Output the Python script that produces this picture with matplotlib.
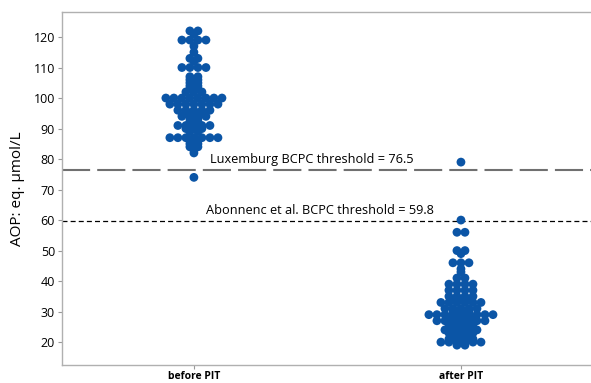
import numpy as np
import matplotlib
matplotlib.use("Agg")
import matplotlib.pyplot as plt

# AOP values (eq. umol/L) and how many samples sit at each value
before_levels = [122, 121, 119, 117, 115, 113, 112, 110, 107, 106, 105, 104, 103, 102,
                 100, 98, 96, 95, 94, 93, 92, 91, 90, 89, 87, 86, 85, 84, 83, 82, 74]
before_counts = [2, 1, 4, 1, 1, 2, 1, 4, 2, 2, 2, 2, 2, 3,
                 8, 7, 5, 3, 4, 2, 2, 5, 3, 2, 7, 2, 2, 2, 1, 1, 1]

after_levels = [79, 60, 56, 50, 49, 46, 44, 43, 41, 39, 37, 35, 34, 33, 31, 30,
                29, 28, 27, 26, 25, 24, 23, 22, 21, 20, 19]
after_counts = [1, 1, 2, 2, 1, 3, 1, 1, 2, 4, 4, 4, 3, 6, 5, 3,
                9, 4, 7, 4, 4, 5, 4, 3, 4, 6, 2]

groups = ["before PIT", "after PIT"]
lux_threshold = 76.5
abonnenc_threshold = 59.8

dot_color = "#0b55a6"
step = 0.030  # horizontal spacing between neighbouring dots


def dot_positions(levels, counts, center):
    xs, ys = [], []
    for v, n in zip(levels, counts):
        offs = (np.arange(n) - (n - 1) / 2.0) * step
        xs.extend(center + offs)
        ys.extend([v] * n)
    return np.array(xs), np.array(ys)


fig = plt.figure(figsize=(5.91, 3.83), dpi=100)
ax = fig.add_axes([62 / 591, 1 - 365 / 383, 1 - 62 / 591, 353 / 383])

for i, (lv, ct) in enumerate([(before_levels, before_counts), (after_levels, after_counts)]):
    x, y = dot_positions(lv, ct, i)
    ax.scatter(x, y, s=40, color=dot_color, edgecolors="none", zorder=3)

ax.axhline(lux_threshold, color="#707070", lw=1.5, dashes=(13.5, 3.4), zorder=2)
ax.axhline(abonnenc_threshold, color="black", lw=0.9, dashes=(4, 2.5), zorder=2)

ax.text(0.06, lux_threshold + 1.2, f"Luxemburg BCPC threshold = {lux_threshold}",
        fontsize=9.2, family="Open Sans", va="bottom", ha="left")
ax.text(0.045, abonnenc_threshold + 1.2, f"Abonnenc et al. BCPC threshold = {abonnenc_threshold}",
        fontsize=9.2, family="Open Sans", va="bottom", ha="left")

ax.set_xlim(-0.494, 1.487)
ax.set_ylim(12.5, 128.2)
ax.set_xticks([0, 1])
ax.set_xticklabels(groups, fontsize=7.5, fontweight="bold", family="Open Sans")
ax.set_yticks(np.arange(20, 121, 10))
ax.tick_params(axis="y", labelsize=9, length=3, color="#999999", pad=2)
ax.tick_params(axis="x", length=3, color="#999999", pad=1.5)
for lab in ax.get_yticklabels():
    lab.set_family("Open Sans")
ax.set_ylabel("AOP: eq. \u00b5mol/L", fontsize=11, family="Open Sans", labelpad=6)

for side in ["left", "bottom", "top"]:
    ax.spines[side].set_color("#b0b0b0")
    ax.spines[side].set_linewidth(1.0)
ax.spines["right"].set_visible(False)

fig.savefig("out.png", dpi=100)
